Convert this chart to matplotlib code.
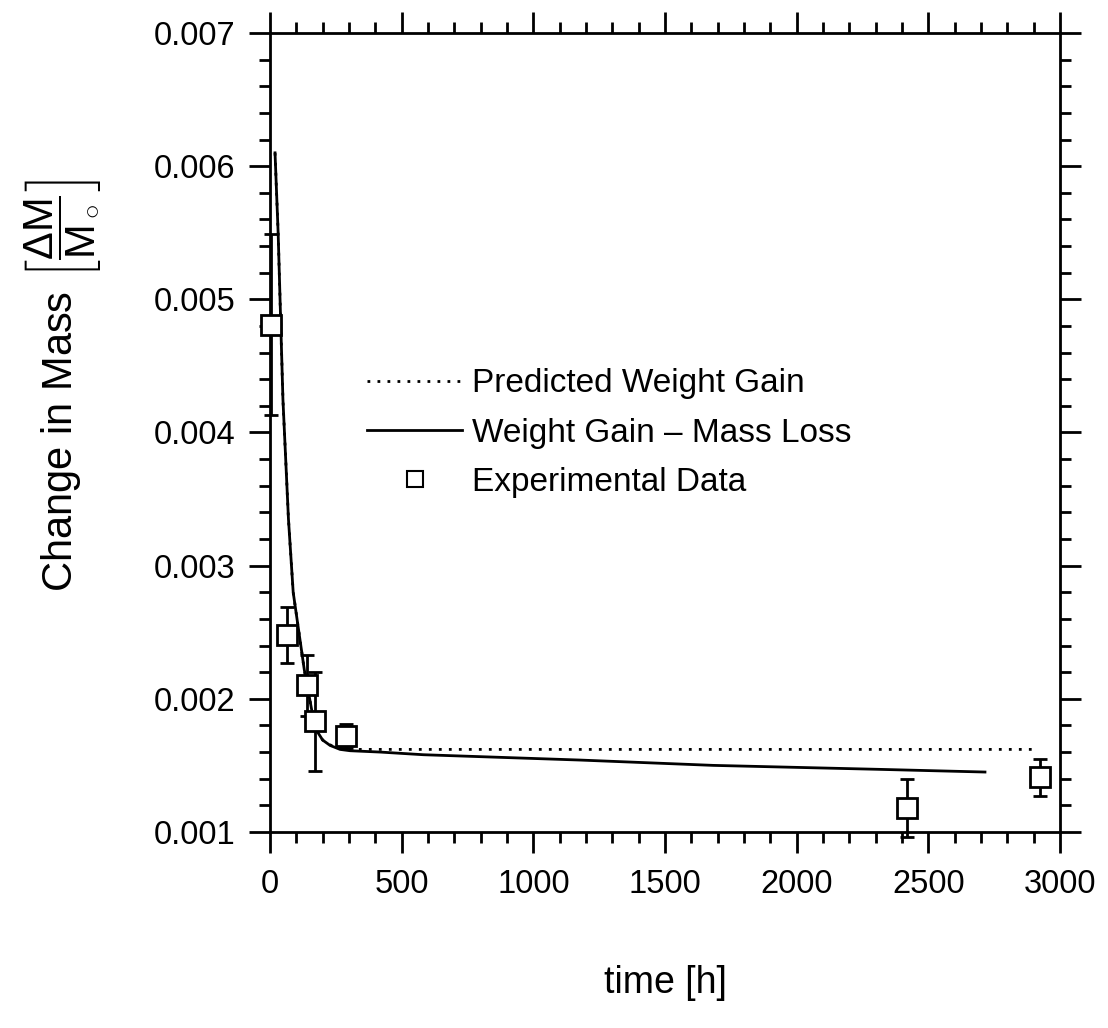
import matplotlib
matplotlib.use("Agg")
import matplotlib.pyplot as plt
from matplotlib.lines import Line2D
from matplotlib.ticker import MultipleLocator, FormatStrFormatter

plt.rcParams['font.family'] = ['Liberation Sans', 'DejaVu Sans']
plt.rcParams['mathtext.fontset'] = 'custom'
plt.rcParams['mathtext.rm'] = 'Liberation Sans'
plt.rcParams['mathtext.it'] = 'Liberation Sans'

# experimental data (time [h], dM/M0, error)
t_exp = [5, 66, 139, 171, 290, 2419, 2924]
m_exp = [0.00481, 0.00248, 0.00210, 0.00183, 0.00172, 0.00118, 0.00141]
m_err = [0.00068, 0.00021, 0.00023, 0.00037, 0.00009, 0.00022, 0.00014]

# model: weight gain - mass loss
t_wgml = [19, 31, 41, 49, 70, 88, 130, 171, 200, 228, 266, 304, 418, 582, 1177, 1683, 2317, 2715]
m_wgml = [0.00610, 0.00549, 0.00480, 0.00425, 0.00335, 0.00280, 0.00222, 0.00178, 0.00169,
          0.00165, 0.00162, 0.00161, 0.00160, 0.00158, 0.00154, 0.00150, 0.00147, 0.00145]

# model: predicted weight gain
t_pred = [19, 31, 41, 49, 70, 88, 130, 171, 200, 240, 300, 2912]
m_pred = [0.00610, 0.00549, 0.00480, 0.00425, 0.00335, 0.00280, 0.00222, 0.00178, 0.00169,
          0.00164, 0.00162, 0.00162]

fig = plt.figure(figsize=(11.08, 10.28), dpi=100)
ax = fig.add_axes([0.2437, 0.1907, 0.7130, 0.7772])

ax.plot(t_pred, m_pred, color='black', lw=2, linestyle=(0, (1, 2.6)))
ax.plot(t_wgml, m_wgml, color='black', lw=2)
ax.errorbar(t_exp, m_exp, yerr=m_err, fmt='s', mfc='white', mec='black', mew=2,
            ms=14, ecolor='black', elinewidth=2, capsize=5, capthick=2, clip_on=False,
            zorder=3)

ax.set_xlim(0, 3000)
ax.set_ylim(0.001, 0.007)
ax.xaxis.set_major_locator(MultipleLocator(500))
ax.xaxis.set_minor_locator(MultipleLocator(100))
ax.yaxis.set_major_locator(MultipleLocator(0.001))
ax.yaxis.set_minor_locator(MultipleLocator(0.0002))
ax.yaxis.set_major_formatter(FormatStrFormatter('%.3f'))

ax.tick_params(which='both', direction='out', top=True, right=True, width=2)
ax.tick_params(which='major', length=15, labelsize=23.5)
ax.tick_params(which='minor', length=8)
ax.tick_params(axis='x', which='major', pad=12)
ax.tick_params(axis='y', which='major', pad=10)
ax.tick_params(labeltop=False, labelright=False)
for s in ax.spines.values():
    s.set_linewidth(2)

ax.set_xlabel('time [h]', fontsize=27)
ax.xaxis.set_label_coords(0.5, -0.167)
ax.set_ylabel(r'Change in Mass $\left[\dfrac{\Delta M}{M_\circ}\right]$', fontsize=30)
ax.yaxis.set_label_coords(-0.21, 0.558)

handles = [
    Line2D([], [], color='black', lw=2, linestyle=(0, (1, 2.6))),
    Line2D([], [], color='black', lw=2),
    Line2D([], [], color='black', marker='s', mfc='white', mec='black', mew=1.5, ms=11, lw=0),
]
labels = ['Predicted Weight Gain', 'Weight Gain \u2013 Mass Loss', 'Experimental Data']
ax.legend(handles, labels, loc='upper left', bbox_to_anchor=(0.102, 0.601), frameon=False,
          fontsize=24, handlelength=2.85, handletextpad=0.3, labelspacing=0.55, borderpad=0)

fig.savefig('out.png', dpi=100)
